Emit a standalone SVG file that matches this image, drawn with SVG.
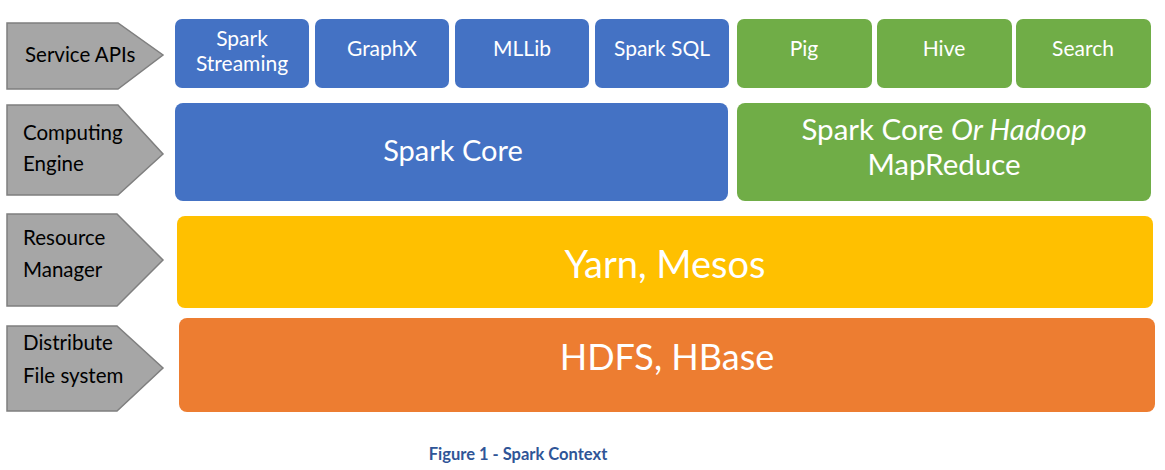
<svg xmlns="http://www.w3.org/2000/svg" width="1165" height="470" viewBox="0 0 1165 470">
<style>
text{font-family:Lato,"Open Sans","Liberation Sans",sans-serif}
.lab{fill:#a6a6a6;stroke:#7f7f7f;stroke-width:1.5}
.lt{font-size:20.5px;fill:#000}
.w{fill:#fff;text-anchor:middle}
.s{font-size:21px}
.blue{fill:#4472c4}
.green{fill:#70ad47}
</style>
<rect width="1165" height="470" fill="#fff"/>
<g id="label-service">
<polygon class="lab" points="7,23 118,23 163,55 118,89 7,89"/>
<text class="lt" x="25" y="62">Service APIs</text>
</g>
<g id="label-computing">
<polygon class="lab" points="7,105 118,105 163,154 118,195 7,195"/>
<text class="lt" x="23" y="140">Computing</text>
<text class="lt" x="23" y="171">Engine</text>
</g>
<g id="label-resource">
<polygon class="lab" points="7,214 117,214 163,260 117,306 7,306"/>
<text class="lt" x="23" y="245">Resource</text>
<text class="lt" x="23" y="277">Manager</text>
</g>
<g id="label-dfs">
<polygon class="lab" points="7,326 117,326 163,368 117,411 7,411"/>
<text class="lt" x="23" y="350">Distribute</text>
<text class="lt" x="23" y="383">File system</text>
</g>
<g id="spark-streaming">
<rect class="blue" x="175" y="19" width="134" height="69" rx="7"/>
<text class="w s" x="242" y="46">Spark</text>
<text class="w s" x="242" y="71">Streaming</text>
</g>
<g id="graphx">
<rect class="blue" x="315" y="19" width="134" height="69" rx="7"/>
<text class="w s" x="382" y="56">GraphX</text>
</g>
<g id="mllib">
<rect class="blue" x="455" y="19" width="134" height="69" rx="7"/>
<text class="w s" x="522" y="56">MLLib</text>
</g>
<g id="spark-sql">
<rect class="blue" x="595" y="19" width="134" height="69" rx="7"/>
<text class="w s" x="662" y="56">Spark SQL</text>
</g>
<g id="pig">
<rect class="green" x="737" y="19" width="135" height="69" rx="7"/>
<text class="w s" x="804" y="56">Pig</text>
</g>
<g id="hive">
<rect class="green" x="877" y="19" width="135" height="69" rx="7"/>
<text class="w s" x="944" y="56">Hive</text>
</g>
<g id="search">
<rect class="green" x="1016" y="19" width="135" height="69" rx="7"/>
<text class="w s" x="1083" y="56">Search</text>
</g>
<g id="spark-core">
<rect class="blue" x="175" y="103" width="553" height="98" rx="8"/>
<text class="w" x="453" y="161" font-size="29">Spark Core</text>
</g>
<g id="spark-hadoop">
<rect class="green" x="737" y="103" width="414" height="98" rx="8"/>
<text class="w" x="944" y="140" font-size="29.5">Spark Core <tspan font-style="italic">Or Hadoop</tspan></text>
<text class="w" x="944" y="175" font-size="29.5">MapReduce</text>
</g>
<g id="yarn">
<rect x="177" y="216" width="976" height="92" rx="8" fill="#ffc000"/>
<text class="w" x="665" y="278" font-size="38">Yarn, Mesos</text>
</g>
<g id="hdfs">
<rect x="179" y="318" width="976" height="94" rx="8" fill="#ed7d31"/>
<text class="w" x="667" y="370" font-size="36">HDFS, HBase</text>
</g>
<g id="connectors"></g>
<text x="518" y="460" text-anchor="middle" font-size="16.5" font-weight="bold" fill="#2f5597">Figure 1 - Spark Context</text>
</svg>
